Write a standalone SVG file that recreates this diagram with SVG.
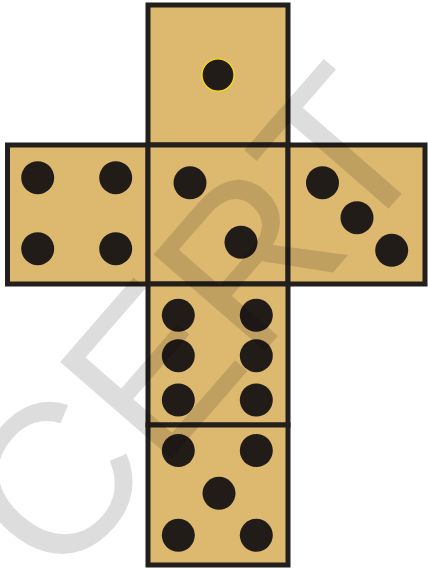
<svg xmlns="http://www.w3.org/2000/svg" width="428" height="568" viewBox="0 0 428 568">
  <style>
    .face { fill: #DDB96F; stroke: #231F1C; stroke-width: 5; }
    .pip { fill: #221C19; }
    .wm { font-family: "Liberation Sans", Arial, sans-serif; font-size: 214px; fill: #000; fill-opacity: 0.135; }
  </style>
  <rect width="428" height="568" fill="#fff"/>
  <g id="face-1">
    <rect class="face" x="148" y="5" width="140" height="140"/>
    <circle class="pip" cx="218" cy="75" r="16" stroke="#ffe600" stroke-width="1.2"/>
  </g>
  <g id="face-4">
    <rect class="face" x="7.5" y="145" width="140.5" height="139"/>
    <circle class="pip" cx="37.7" cy="177.7" r="16.5"/>
    <circle class="pip" cx="115.7" cy="177.7" r="16.5"/>
    <circle class="pip" cx="37.7" cy="248.7" r="16.5"/>
    <circle class="pip" cx="115.7" cy="248.7" r="16.5"/>
  </g>
  <g id="face-2">
    <rect class="face" x="148" y="145" width="140" height="139"/>
    <circle class="pip" cx="190" cy="182.8" r="16.5"/>
    <circle class="pip" cx="241" cy="242.3" r="16.5"/>
  </g>
  <g id="face-3">
    <rect class="face" x="288" y="145" width="137" height="139"/>
    <circle class="pip" cx="322.5" cy="182.7" r="16.5"/>
    <circle class="pip" cx="357" cy="217.7" r="16.5"/>
    <circle class="pip" cx="391.7" cy="250.3" r="16.5"/>
  </g>
  <g id="face-6">
    <rect class="face" x="148" y="284" width="140" height="141"/>
    <circle class="pip" cx="178.3" cy="315.3" r="16.5"/>
    <circle class="pip" cx="256.3" cy="315.3" r="16.5"/>
    <circle class="pip" cx="178.3" cy="355.7" r="16.5"/>
    <circle class="pip" cx="256.3" cy="355.7" r="16.5"/>
    <circle class="pip" cx="178.3" cy="400" r="16.5"/>
    <circle class="pip" cx="256.3" cy="400" r="16.5"/>
  </g>
  <g id="face-5">
    <rect class="face" x="148" y="425" width="140" height="140"/>
    <circle class="pip" cx="178.3" cy="450.5" r="16.5"/>
    <circle class="pip" cx="256.3" cy="450.5" r="16.5"/>
    <circle class="pip" cx="219" cy="493.3" r="16.5"/>
    <circle class="pip" cx="178.3" cy="535.3" r="16.5"/>
    <circle class="pip" cx="256.3" cy="535.3" r="16.5"/>
  </g>
  <g id="watermark">
    <text class="wm" x="0" y="0" transform="translate(58.3,588.5) rotate(-49)">CERT</text>
  </g>
</svg>
